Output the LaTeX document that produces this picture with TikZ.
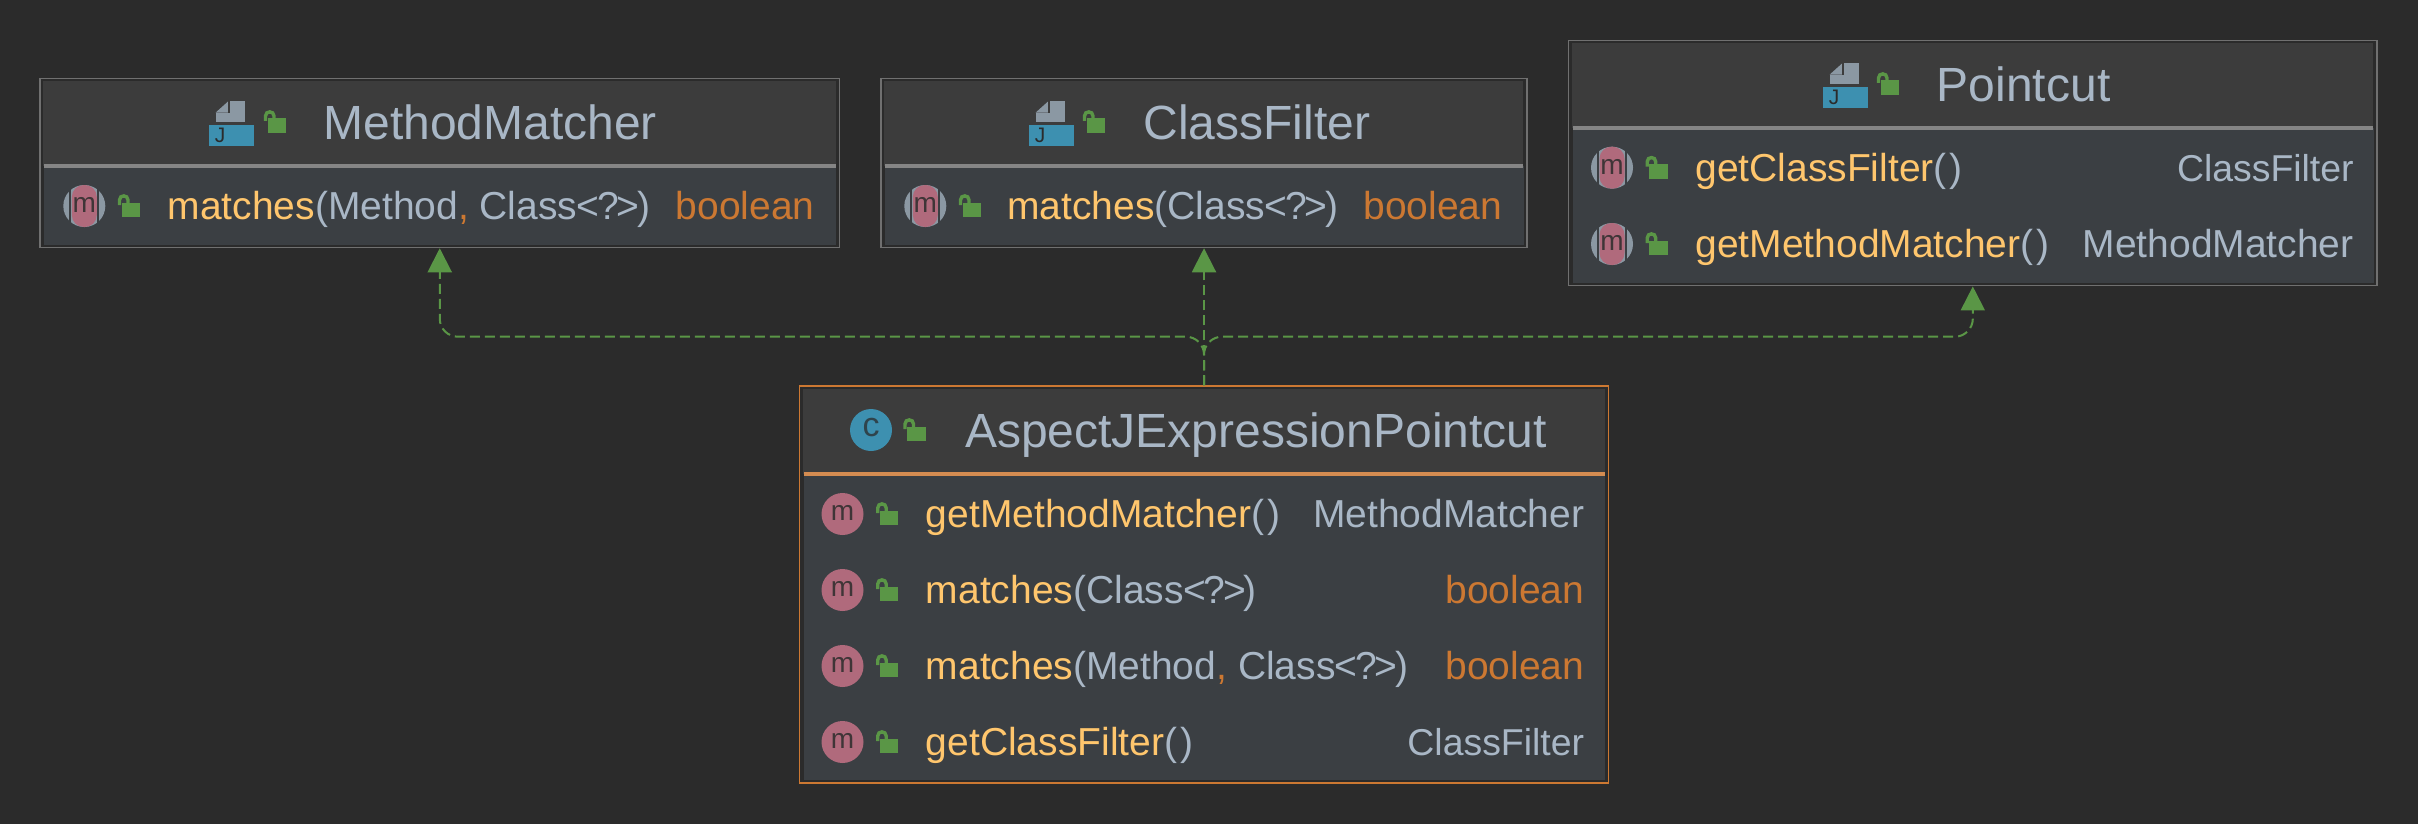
\documentclass[tikz,border=0pt]{standalone}
\usepackage{fontspec}
\setmainfont{Liberation Sans}
\usetikzlibrary{arrows.meta}
\usetikzlibrary{calc}
\definecolor{bgdark}{HTML}{2B2B2B}
\definecolor{headfill}{HTML}{3C3C3C}
\definecolor{bodyfill}{HTML}{3B3F43}
\definecolor{framegrey}{HTML}{707070}
\definecolor{seqorange}{HTML}{CC7832}
\definecolor{txtgrey}{HTML}{A9B7C6}
\definecolor{nameyellow}{HTML}{FFC66D}
\definecolor{lockgreen}{HTML}{5A9646}
\definecolor{mrose}{HTML}{B06A7C}
\definecolor{iconblue}{HTML}{3D90B0}
\definecolor{icongrey}{HTML}{8B98A3}
\tikzset{
  titletext/.style={anchor=base west,inner sep=0pt,text=txtgrey,font=\fontsize{24}{28}\selectfont},
  rowname/.style={anchor=base west,inner sep=0pt,text=txtgrey,font=\fontsize{19.5}{23}\selectfont},
  rowtype/.style={anchor=base east,inner sep=0pt,text=txtgrey,font=\fontsize{19.5}{23}\selectfont},
  filtertype/.style={rowtype,font=\fontsize{18.7}{23}\selectfont},
  boolean/.style={rowtype,text=seqorange},
  iconletter/.style={inner sep=0pt,font=\fontsize{14}{14}\selectfont},
  realize/.style={draw=lockgreen,line width=1pt,dash pattern=on 5pt off 2.5pt,rounded corners=9pt,
    -{Triangle[length=12pt,width=12pt,fill=lockgreen]}},
}
\newcommand{\nm}[1]{\textcolor{nameyellow}{#1}}
\newcommand{\cm}{\textcolor{seqorange}{,}}
\newcommand{\wild}{Class\kern-0.4pt<\kern-1.1pt?\kern-1.1pt>\kern-1pt}
\newcommand{\noargs}{(\kern1.5pt)}
% frame, header and body of one class box
\newcommand{\umlclass}[7]{
  \pgfmathsetmacro{\bw}{(#4-#2)*0.5}
  \pgfmathsetmacro{\bh}{(#5-#3)*0.5}
  \node[draw=#7,line width=0.75pt,minimum width=\bw pt,minimum height=\bh pt,inner sep=0pt]
    (#1) at ({(#2+#4)/2},{(#3+#5)/2}) {};
  \fill[headfill] ($(#1.north west)+(4,3.5)$) rectangle (#4-4,#6);
  \fill[bodyfill] (#2+4,#6) rectangle ($(#1.south east)+(-4,-3.5)$);
  \fill[#7!85!white] (#2+4,#6-2) rectangle (#4-4,#6+2);
}
\newcommand{\lockicon}[2]{
  \begin{scope}[shift={(#1,#2)}]
    \fill[lockgreen] (3.5,8.5) rectangle (22,23);
    \draw[lockgreen,line width=1.7pt] (1.5,11) -- (1.5,6) .. controls (1.5,0.5) and (10,0.5) .. (10,6) -- (10,9);
  \end{scope}
}
\newcommand{\ifaceicon}[2]{
  \begin{scope}[shift={(#1,#2)}]
    \fill[icongrey] (6.5,11.7) -- (18.8,0.7) -- (18.8,11.7) -- cycle;
    \fill[icongrey] (21,0) rectangle (36,11.7);
    \fill[icongrey] (6.5,11.7) rectangle (36,21);
    \fill[iconblue] (0,24) rectangle (45,45);
    \node[iconletter,text=bgdark,font=\fontsize{10.5}{10.5}\selectfont] (j#1) at (11,34.7) {J};
  \end{scope}
}
% plain method marker
\newcommand{\mplain}[2]{
  \fill[mrose] (#1,#2) ellipse (10.5pt and 10.5pt);
  \node[iconletter,text=bgdark!85!mrose] (m#1-#2) at (#1,#2-1) {m};
  \lockicon{#1+33.7}{#2-12}
}
% method marker on grey disc
\newcommand{\mlens}[2]{
  \fill[icongrey] (#1,#2) ellipse (10.5pt and 10.5pt);
  \fill[bodyfill] (#1-13,#2-21) rectangle (#1-15,#2+21);
  \fill[bodyfill] (#1+13,#2-21) rectangle (#1+15,#2+21);
  \fill[mrose,rounded corners=6pt] (#1-12.5,#2-21) rectangle (#1+12.5,#2+21);
  \node[iconletter,text=bgdark!85!mrose] (m#1-#2) at (#1,#2-1) {m};
  \lockicon{#1+33.7}{#2-12}
}
\begin{document}
\begin{tikzpicture}[x=0.5pt,y=-0.5pt]
  \fill[bgdark] (0,0) rectangle (2418,824);
  \useasboundingbox (0,0) rectangle (2418,824);

  \umlclass{methodmatcher}{40}{78.5}{839.5}{247.5}{166}{framegrey}
  \ifaceicon{209}{101}
  \lockicon{264}{110}
  \node[titletext] (mmTitle) at (323,139.3) {MethodMatcher};
  \mlens{84.3}{206}
  \node[rowname] (mmMatches) at (167.3,219.3) {\nm{matches}(Method\cm{} \wild)};
  \node[boolean] (mmType) at (815,219.3) {boolean};

  \umlclass{classfilter}{881}{78.5}{1527}{247.5}{166}{framegrey}
  \ifaceicon{1029}{101}
  \lockicon{1083}{110}
  \node[titletext] (cfTitle) at (1143,139.3) {ClassFilter};
  \mlens{925.3}{206}
  \node[rowname] (cfMatches) at (1007,219.3) {\nm{matches}(\wild)};
  \node[boolean] (cfType) at (1502.5,219.3) {boolean};

  \umlclass{pointcut}{1568.6}{40.7}{2377}{285.7}{128}{framegrey}
  \ifaceicon{1823}{63}
  \lockicon{1877}{72}
  \node[titletext] (pcTitle) at (1936.5,101.7) {Pointcut};
  \mlens{1612}{167.7}
  \node[rowname] (pcFilter) at (1695,181.7) {\nm{getClassFilter}\noargs};
  \node[filtertype] (pcFilterType) at (2354,181.7) {ClassFilter};
  \mlens{1612}{244}
  \node[rowname] (pcMatcher) at (1695,257.7) {\nm{getMethodMatcher}\noargs};
  \node[rowtype] (pcMatcherType) at (2354,257.7) {MethodMatcher};

  \umlclass{aspectpc}{799.5}{386}{1608.5}{783}{474}{seqorange}
  \fill[iconblue] (871,430) circle (10.5pt);
  \node[iconletter,text=bgdark!75!iconblue,font=\fontsize{17}{17}\selectfont] (cMark) at (871,428) {c};
  \lockicon{903.5}{418}
  \node[titletext] (apTitle) at (964.8,447.3) {AspectJExpressionPointcut};
  \mplain{842.5}{514}
  \node[rowname] (apMatcher) at (925.5,527.7) {\nm{getMethodMatcher}\noargs};
  \node[rowtype] (apMatcherType) at (1584.5,527.7) {MethodMatcher};
  \mplain{842.5}{590}
  \node[rowname] (apMatchesA) at (925.5,603.7) {\nm{matches}(\wild)};
  \node[boolean] (apMatchesAType) at (1584.5,603.7) {boolean};
  \mplain{842.5}{666}
  \node[rowname] (apMatchesB) at (925.5,679.7) {\nm{matches}(Method\cm{} \wild)};
  \node[boolean] (apMatchesBType) at (1584.5,679.7) {boolean};
  \mplain{842.5}{742}
  \node[rowname] (apFilter) at (925.5,755.7) {\nm{getClassFilter}\noargs};
  \node[filtertype] (apFilterType) at (1584.5,755.7) {ClassFilter};

  \coordinate (bus) at (1204,336.7);
  \draw[realize] (aspectpc.north) |- (bus -| methodmatcher.south) -- (methodmatcher.south);
  \draw[realize] (aspectpc.north) |- (bus -| pointcut.south) -- (pointcut.south);
  \draw[realize] (aspectpc.north) -- (classfilter.south);
\end{tikzpicture}
\end{document}
